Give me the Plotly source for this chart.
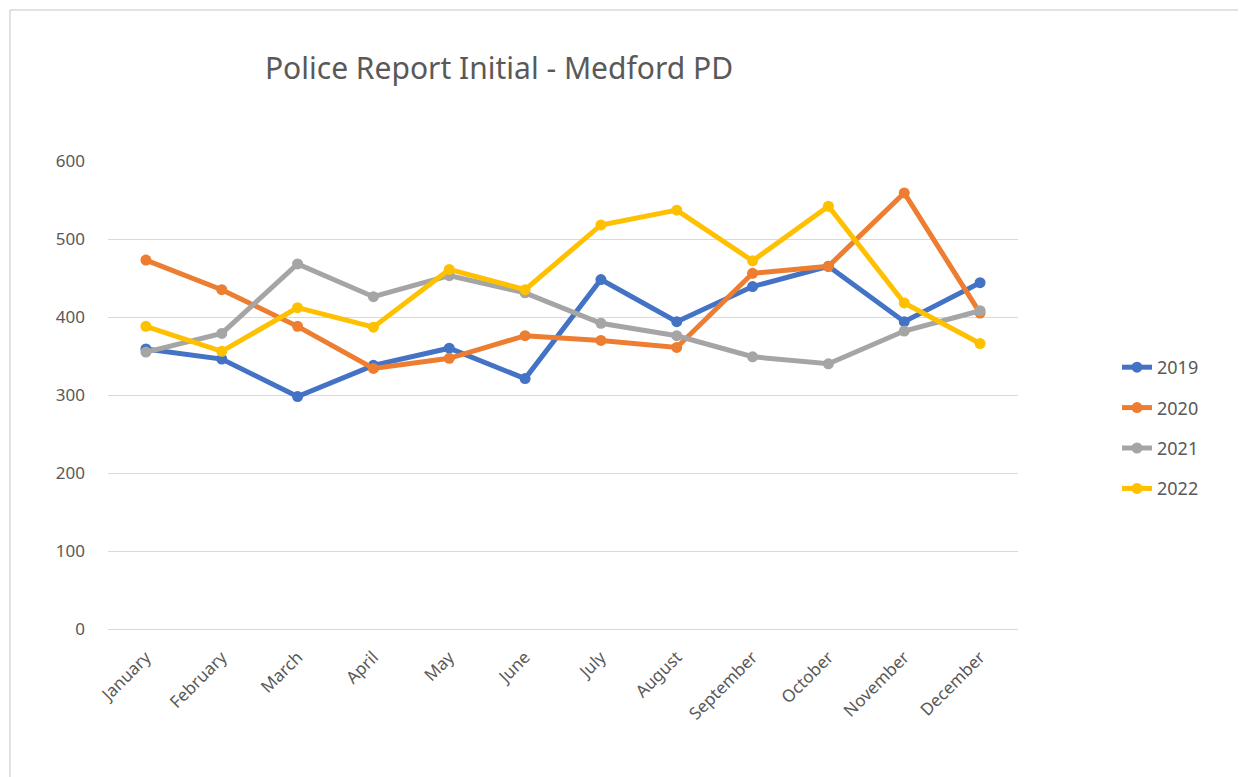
import plotly.graph_objects as go

months = ["January", "February", "March", "April", "May", "June", "July",
          "August", "September", "October", "November", "December"]
y2019 = [359, 346, 298, 338, 360, 321, 448, 394, 439, 465, 394, 444]
y2020 = [473, 435, 388, 334, 347, 376, 370, 361, 456, 465, 559, 405]
y2021 = [355, 379, 468, 426, 453, 431, 392, 376, 349, 340, 382, 408]
y2022 = [388, 356, 412, 387, 461, 435, 518, 537, 472, 542, 418, 366]

series = [("2019", y2019, "#4472C4"), ("2020", y2020, "#ED7D31"),
          ("2021", y2021, "#A5A5A5"), ("2022", y2022, "#FFC000")]

# page body has an 8px margin, so the figure is drawn 8px smaller / shifted
W, H = 1238, 769
L, R, T, B = 100, 228, 153, 148
pw = W - L - R
ph = H - T - B

fig = go.Figure()
for name, vals, col in series:
    fig.add_trace(go.Scatter(
        x=months, y=vals, name=name, mode="lines+markers",
        line=dict(color=col, width=5),
        marker=dict(color=col, size=11),
        legendgroup=name,
    ))

fig.update_layout(
    width=W, height=H,
    margin=dict(l=L, r=R, t=T, b=B, pad=0),
    paper_bgcolor="white", plot_bgcolor="white",
    font=dict(family="Noto Sans, sans-serif", color="#595959", size=16),
    title=dict(text="Police Report Initial - Medford PD", x=491 / W, xanchor="center",
               y=1 - 60 / H, yanchor="middle",
               font=dict(size=30, color="#595959")),
    xaxis=dict(type="category", range=[-0.5, 11.5], tickangle=-45, showgrid=False,
               showline=False, ticks="", ticklabelstandoff=14,
               tickfont=dict(size=17, color="#595959"), fixedrange=True),
    yaxis=dict(range=[0, 600], dtick=100, showgrid=True, gridcolor="#D9D9D9", gridwidth=1,
               zeroline=True, zerolinecolor="#D9D9D9", zerolinewidth=1,
               ticks="", ticklabelstandoff=22, tickfont=dict(size=17, color="#595959")),
    legend=dict(x=(1109 - L) / pw, xanchor="left", y=(H - B - 420) / ph, yanchor="middle",
                font=dict(size=18, color="#595959"), tracegroupgap=14,
                bgcolor="rgba(0,0,0,0)"),
    showlegend=True,
)

fig.add_shape(type="line", xref="paper", yref="paper",
              x0=(2 - L) / pw, x1=(2 - L) / pw, y0=(H - B - 2) / ph, y1=(H - B - H - 10) / ph,
              line=dict(color="#D9D9D9", width=1.5))
fig.add_shape(type="line", xref="paper", yref="paper",
              x0=(2 - L) / pw, x1=(W + 10 - L) / pw, y0=(H - B - 2) / ph, y1=(H - B - 2) / ph,
              line=dict(color="#D9D9D9", width=1.5))

fig.write_html("out.html")
